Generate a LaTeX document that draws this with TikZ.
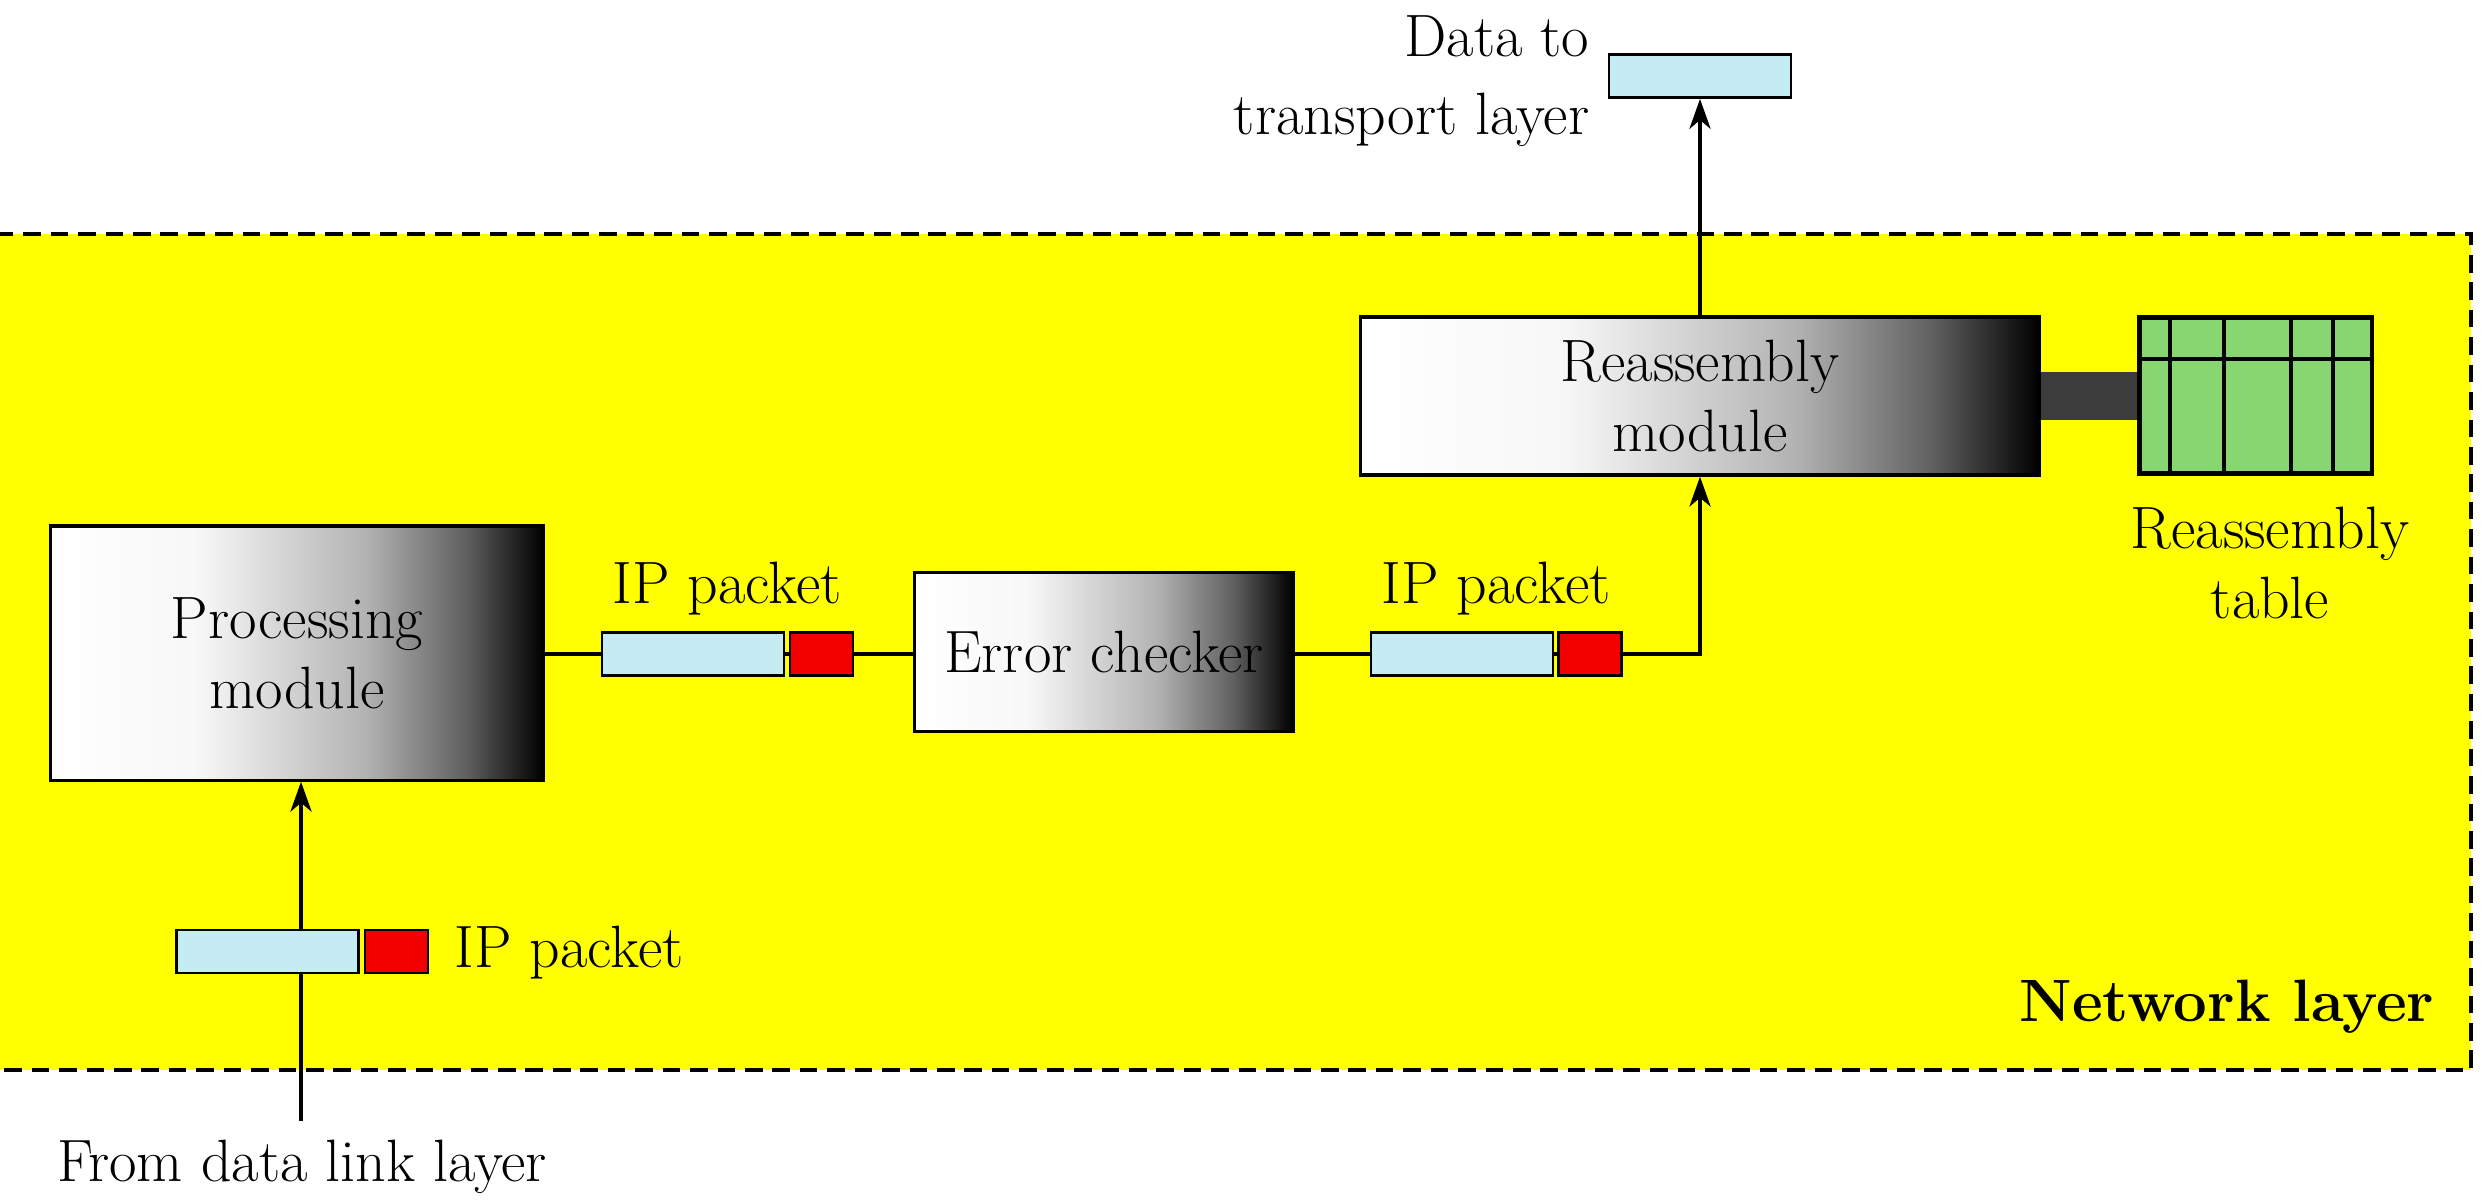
\documentclass[tikz,border=0pt]{standalone}
\usetikzlibrary{arrows.meta,calc}
\definecolor{pktblue}{HTML}{C6ECF3}
\definecolor{pktred}{HTML}{F20000}
\definecolor{tblgreen}{HTML}{88D672}
\definecolor{barcol}{HTML}{3C3C3C}
\definecolor{ylw}{RGB}{255,255,0}
\pgfdeclarehorizontalshading{modshade}{100bp}{color(0bp)=(white); color(25bp)=(white); color(40bp)=(white!97!black); color(57bp)=(white!70!black); color(67bp)=(white!38!black); color(75bp)=(black); color(100bp)=(black)}
\begin{document}
\begin{tikzpicture}[x=0.01cm,y=-0.01cm,
  txt/.style={font=\fontsize{17}{20}\selectfont, inner sep=0pt, align=center},
  module/.style={draw=black, line width=0.9pt, shading=modshade, font=\fontsize{17}{20}\selectfont, align=center, inner sep=0pt},
  pblue/.style={draw=black, line width=0.8pt, fill=pktblue, minimum width=1.82cm, minimum height=0.43cm, inner sep=0pt},
  pred/.style={draw=black, line width=0.8pt, fill=pktred, minimum width=0.63cm, minimum height=0.43cm, inner sep=0pt},
  conn/.style={line width=1.1pt},
  arr/.style={line width=1.1pt, -{Stealth[length=8.5pt, width=6pt, inset=2.5pt]}}]
\useasboundingbox (0,0) rectangle (2482,1202);
% network layer region
\draw[fill=ylw, line width=0.9pt, dash pattern=on 5pt off 2.8pt] (-10,234) rectangle (2471,1070);
\node[txt, font=\fontsize{17}{20}\selectfont\bfseries, anchor=east] (nl) at (2435,1007) {Network layer};
% modules
\node[module, minimum width=4.93cm, minimum height=2.54cm] (pm) at (297,653) {Processing\\module};
\node[module, minimum width=3.78cm, minimum height=1.59cm] (ec) at (1104,652) {Error checker};
\node[module, minimum width=6.79cm, minimum height=1.58cm] (rm) at (1700,396) {Reassembly\\module};
% reassembly table
\node[draw=black, line width=0.9pt, fill=tblgreen, minimum width=2.31cm, minimum height=1.55cm, inner sep=0pt] (tbl) at (2255.5,395.5) {};
\fill[barcol] ($(rm.east)+(0,-24)$) rectangle ($(tbl.west)+(0,24)$);
\draw[line width=0.9pt] (tbl.north west) rectangle (tbl.south east);
\foreach \xx in {2170,2224,2291,2333} \draw[line width=0.9pt] (\xx,318) -- (\xx,473);
\draw[line width=0.9pt] (2140,359) -- (2371,359);
\node[txt] (tbllab) at (2270,563) {Reassembly\\table};
% data to transport layer
\node[pblue] (dt) at (1700,76) {};
\node[txt, align=right, anchor=east] (dtlab) at (1590,81) {Data to\\[2pt]transport layer};
\draw[arr] (rm.north) -- (dt.south);
% packet 1
\node[pblue] (p1b) at (693,654) {};
\node[pred] (p1r) at (821.5,654) {};
\node[txt] (p1lab) at (727,589) {IP packet};
% packet 2
\node[pblue] (p2b) at (1462,654) {};
\node[pred] (p2r) at (1590,654) {};
\node[txt] (p2lab) at (1496,589) {IP packet};
% packet 3
\coordinate (src) at (301,1121);
\draw[arr] (src) -- (pm.south -| src);
\node[pblue] (p3b) at (267.5,951.5) {};
\node[pred] (p3r) at (396.5,951.5) {};
\node[txt, anchor=west] (p3lab) at (454,953) {IP packet};
\node[txt] (srclab) at (302,1167) {From data link layer};
% connectors
\draw[conn] (pm.east |- p1b.west) -- (p1b.west);
\draw[conn] (p1b.east) -- (p1r.west);
\draw[conn] (p1r.east) -- (ec.west |- p1r.east);
\draw[conn] (ec.east |- p2b.west) -- (p2b.west);
\draw[conn] (p2b.east) -- (p2r.west);
\draw[arr] (p2r.east) -| (rm.south);
\end{tikzpicture}
\end{document}
